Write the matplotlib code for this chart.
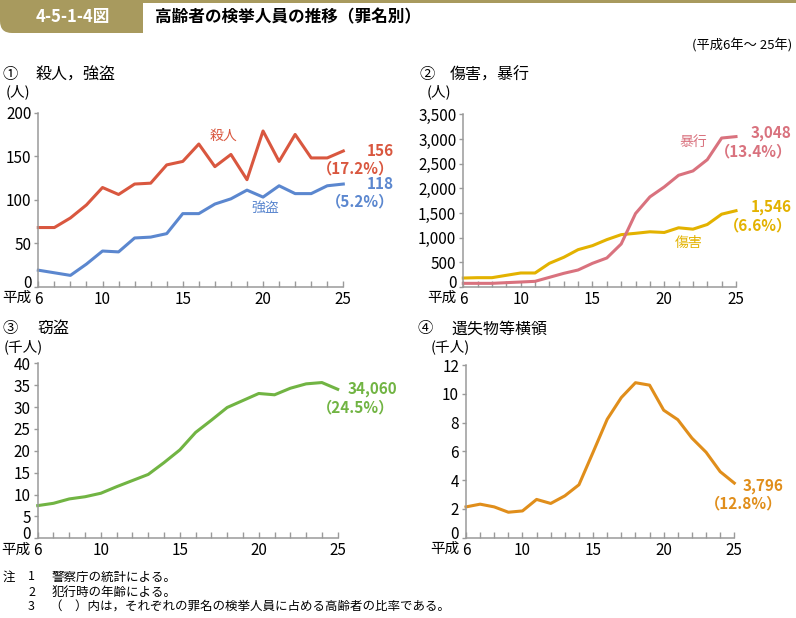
import numpy as np
import matplotlib.pyplot as plt
from matplotlib.patches import FancyBboxPatch, Rectangle
from matplotlib.ticker import FuncFormatter
from matplotlib.transforms import ScaledTranslation

plt.rcParams['font.family'] = ['Noto Sans CJK JP', 'DejaVu Sans']

# データ（平成6年～25年）
nen = np.arange(6, 26)

satsujin = [68, 68, 79, 94, 114, 106, 118, 119, 140, 144, 164, 138, 152, 123, 179, 144, 175, 148, 148, 156]
goto = [19, 16, 13, 26, 41, 40, 56, 57, 61, 84, 84, 95, 101, 111, 103, 116, 107, 107, 116, 118]
shogai = [182, 189, 189, 237, 284, 284, 480, 602, 757, 838, 960, 1061, 1088, 1119, 1105, 1200, 1172, 1267, 1476, 1546]
boko = [74, 74, 74, 88, 101, 115, 196, 277, 345, 480, 588, 872, 1489, 1826, 2028, 2264, 2352, 2581, 3019, 3048]
setto = [7.47, 8.0, 9.0, 9.5, 10.3, 11.8, 13.2, 14.6, 17.3, 20.2, 24.2, 27.0, 29.9, 31.5, 33.1, 32.8, 34.3, 35.3, 35.6, 34.06]
ishitsu = [2.14, 2.33, 2.14, 1.77, 1.86, 2.66, 2.38, 2.91, 3.68, 5.94, 8.23, 9.74, 10.77, 10.6, 8.86, 8.2, 6.92, 5.94, 4.59, 3.796]

x_ticks = [6, 10, 15, 20, 25]
x_labels = ['6', '10', '15', '20', '25']

# 色
c_satsujin = '#D9573F'
c_goto = '#5B87CF'
c_shogai = '#E3B200'
c_boko = '#D9727E'
c_setto = '#71B443'
c_ishitsu = '#E08E1B'
gold = '#A89A5E'
gray = '#9A9A9A'

W, H = 796, 618
fig = plt.figure(figsize=(W / 100, H / 100), dpi=100)


def fx(x):
    return x / W


def fy(y):
    return 1 - y / H


def panel(left, top, right, bottom, ymax, ystep, fmt=None):
    ax = fig.add_axes([fx(left), fy(bottom), fx(right) - fx(left), fy(top) - fy(bottom)])
    ax.set_xlim(6, 25)
    ax.set_ylim(0, ymax)
    for s in ['top', 'right']:
        ax.spines[s].set_visible(False)
    for s in ['left', 'bottom']:
        ax.spines[s].set_color(gray)
        ax.spines[s].set_linewidth(1.1)
    ax.set_xticks(x_ticks)
    ax.set_xticklabels(x_labels)
    ax.set_xticks(nen, minor=True)
    ax.tick_params(axis='x', which='both', direction='in', length=4, width=1, color=gray,
                   labelsize=11, pad=3)
    ax.set_yticks(np.arange(0, ymax + ystep / 2, ystep))
    ax.tick_params(axis='y', direction='out', length=3, width=1, color=gray, labelsize=11, pad=2)
    if fmt:
        ax.yaxis.set_major_formatter(FuncFormatter(fmt))
    # 0 のラベルを少し上へ
    t0 = ax.yaxis.get_major_ticks()[0].label1
    t0.set_transform(t0.get_transform() + ScaledTranslation(0, 4 / 72, fig.dpi_scale_trans))
    ax.annotate('平成', xy=(6, 0), xycoords=('data', 'axes fraction'), xytext=(-5, -3),
                textcoords='offset points', ha='right', va='top', fontsize=10.5)
    return ax


def value(x, y, s, c):
    fig.text(fx(x), fy(y), s, color=c, fontsize=11, fontweight='bold', ha='right', va='center')


# ヘッダー
fig.add_artist(FancyBboxPatch((0, (H - 33) / 100), 1.43, 0.6,
                              boxstyle='round,pad=0,rounding_size=0.12',
                              transform=fig.dpi_scale_trans, fc=gold, ec='none'))
fig.add_artist(Rectangle((1.1, (H - 33) / 100), 0.33, 0.6,
                         transform=fig.dpi_scale_trans, fc=gold, ec='none'))
fig.add_artist(Rectangle((1.43, (H - 2.5) / 100), 7, 0.03,
                         transform=fig.dpi_scale_trans, fc=gold, ec='none'))
fig.text(fx(73), fy(17), '4-5-1-4図', color='white', fontsize=12, fontweight='bold',
         ha='center', va='center')
fig.text(fx(155), fy(17), '高齢者の検挙人員の推移（罪名別）', fontsize=12, fontweight='bold',
         va='center')
fig.text(fx(792), fy(45), '(平成6年～ 25年)', fontsize=9.5, ha='right', va='center')

# ① 殺人，強盗
ax1 = panel(38.3, 112.7, 343.3, 286.7, 200, 50)
ax1.plot(nen, satsujin, color=c_satsujin, lw=2.2, clip_on=False)
ax1.plot(nen, goto, color=c_goto, lw=2.2, clip_on=False)
fig.text(fx(10), fy(75), '①', fontsize=11, ha='center', va='center')
fig.text(fx(36), fy(75), '殺人，強盗', fontsize=11.5, va='center')
fig.text(fx(6), fy(92), '(人)', fontsize=10.5, va='center')
fig.text(fx(223), fy(135.7), '殺人', color=c_satsujin, fontsize=10, ha='center', va='center')
fig.text(fx(265), fy(208), '強盗', color=c_goto, fontsize=10, ha='center', va='center')
value(394, 151, '156', c_satsujin)
value(394, 168.5, '（17.2%）', c_satsujin)
value(394, 184, '118', c_goto)
value(394, 201, '（5.2%）', c_goto)

# ② 傷害，暴行
ax2 = panel(463.3, 114.3, 736, 287, 3500, 500, lambda v, p: f'{int(v):,}')
ax2.plot(nen, shogai, color=c_shogai, lw=2.2, clip_on=False)
ax2.plot(nen, boko, color=c_boko, lw=2.2, clip_on=False)
fig.text(fx(427), fy(75), '②', fontsize=11, ha='center', va='center')
fig.text(fx(450), fy(75), '傷害，暴行', fontsize=11.5, va='center')
fig.text(fx(427), fy(92), '(人)', fontsize=10.5, va='center')
fig.text(fx(693), fy(141.7), '暴行', color=c_boko, fontsize=10, ha='center', va='center')
fig.text(fx(689), fy(242.7), '傷害', color=c_shogai, fontsize=10, ha='center', va='center')
value(792, 133.3, '3,048', c_boko)
value(792, 151.7, '（13.4%）', c_boko)
value(792, 207.3, '1,546', c_shogai)
value(792, 225, '（6.6%）', c_shogai)

# ③ 窃盗
ax3 = panel(37.7, 363.3, 337.7, 538.3, 40, 5)
ax3.plot(nen, setto, color=c_setto, lw=2.2, clip_on=False)
fig.text(fx(10), fy(328), '③', fontsize=11, ha='center', va='center')
fig.text(fx(37), fy(328), '窃盗', fontsize=11.5, va='center')
fig.text(fx(4), fy(347), '(千人)', fontsize=10.5, va='center')
value(397, 389, '34,060', c_setto)
value(394, 407, '（24.5%）', c_setto)

# ④ 遺失物等横領
ax4 = panel(466, 365, 734.3, 537.7, 12, 2)
ax4.plot(nen, ishitsu, color=c_ishitsu, lw=2.2, clip_on=False)
fig.text(fx(425), fy(329), '④', fontsize=11, ha='center', va='center')
fig.text(fx(451), fy(329), '遺失物等横領', fontsize=11.5, va='center')
fig.text(fx(431), fy(347), '(千人)', fontsize=10.5, va='center')
value(784, 485.7, '3,796', c_ishitsu)
value(782, 503.3, '（12.8%）', c_ishitsu)

# 注
fig.text(fx(3), fy(577), '注', fontsize=9, va='center')
fig.text(fx(28), fy(577), '1', fontsize=9, va='center')
fig.text(fx(52), fy(577), '警察庁の統計による。', fontsize=9, va='center')
fig.text(fx(28), fy(592), '2', fontsize=9, va='center')
fig.text(fx(52), fy(592), '犯行時の年齢による。', fontsize=9, va='center')
fig.text(fx(28), fy(607), '3', fontsize=9, va='center')
fig.text(fx(50), fy(607), '（　）内は，それぞれの罪名の検挙人員に占める高齢者の比率である。', fontsize=9, va='center')

fig.savefig('out.png', dpi=100)
